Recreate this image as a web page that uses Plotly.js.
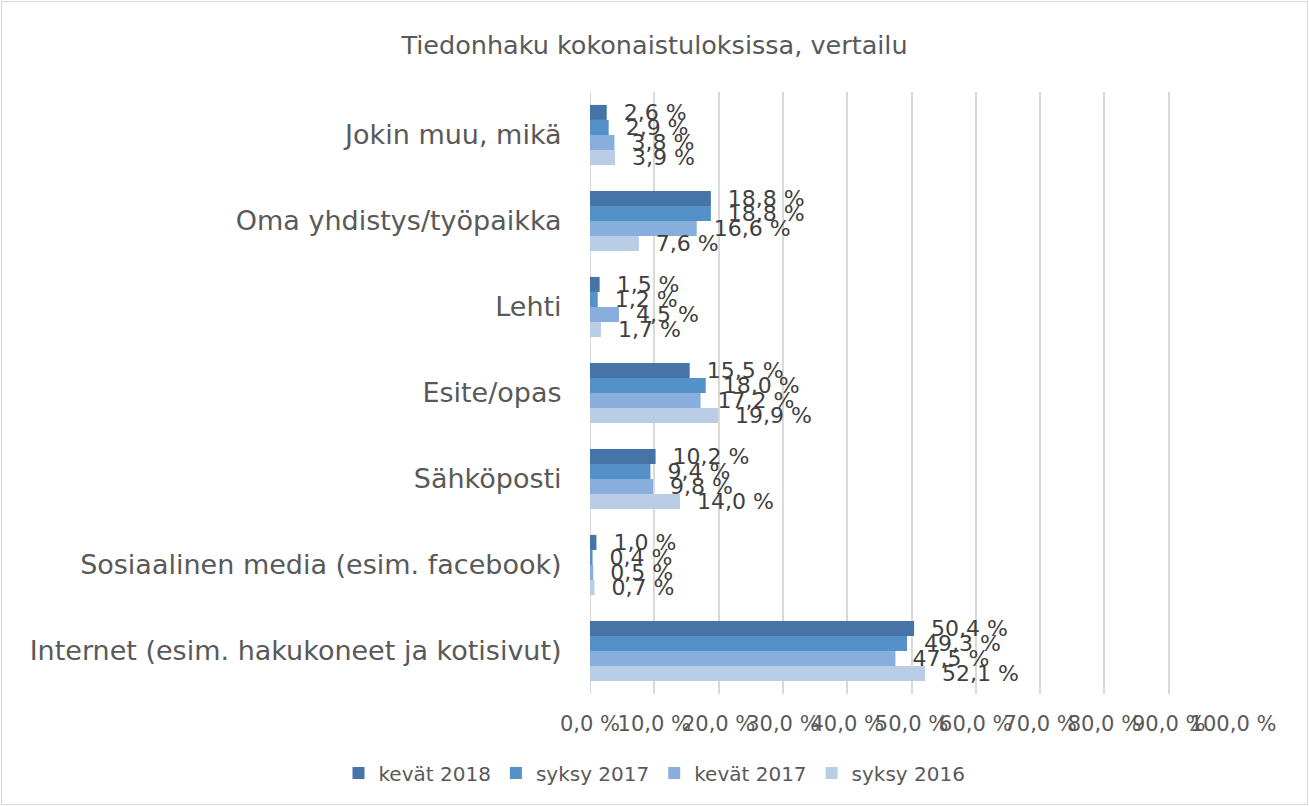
<!DOCTYPE html>
<html>
<head>
<meta charset="utf-8">
<script src="https://cdn.plot.ly/plotly-3.0.1.min.js"></script>
<style>
html,body{margin:0;padding:0;background:#fff;}
#wrap{position:relative;width:1309px;height:806px;}
#chart{width:1309px;height:806px;}
#frame{position:absolute;left:1px;top:1px;width:1305px;height:802px;border:1px solid #d9d9d9;pointer-events:none;}
</style>
</head>
<body>
<div id="wrap"><div id="chart"></div><div id="frame"></div></div>
<script>
const categories = [
  "Jokin muu, mikä",
  "Oma yhdistys/työpaikka",
  "Lehti",
  "Esite/opas",
  "Sähköposti",
  "Sosiaalinen media (esim. facebook)",
  "Internet (esim. hakukoneet ja kotisivut)"
];
const seriesNames = ["kevät 2018", "syksy 2017", "kevät 2017", "syksy 2016"];
const kevat2018 = [2.6, 18.8, 1.5, 15.5, 10.2, 1.0, 50.4];
const syksy2017 = [2.9, 18.8, 1.2, 18.0, 9.4, 0.4, 49.3];
const kevat2017 = [3.8, 16.6, 4.5, 17.2, 9.8, 0.5, 47.5];
const syksy2016 = [3.9, 7.6, 1.7, 19.9, 14.0, 0.7, 52.1];
const tickValues = [0, 10, 20, 30, 40, 50, 60, 70, 80, 90, 100];
const tickLabels = ["0,0 %", "10,0 %", "20,0 %", "30,0 %", "40,0 %", "50,0 %",
                    "60,0 %", "70,0 %", "80,0 %", "90,0 %", "100,0 %"];

const seriesValues = [kevat2018, syksy2017, kevat2017, syksy2016];
const colors = ["#4674A6", "#5591C9", "#87AEDC", "#B9CDE6"];
const FONT = "DejaVu Sans, Verdana, sans-serif";

const traces = seriesValues.map((vals, i) => ({
  type: "bar",
  orientation: "h",
  name: seriesNames[i],
  y: categories,
  x: vals,
  marker: {color: colors[i]},
  texttemplate: "\u00a0\u00a0%{x:.1f} %",
  textposition: "outside",
  constraintext: "none",
  cliponaxis: false,
  textfont: {family: FONT, size: 22, color: "#404040"},
  hoverinfo: "x+name"
}));

const layout = {
  width: 1309,
  height: 806,
  paper_bgcolor: "#ffffff",
  plot_bgcolor: "#ffffff",
  separators: ", ",
  font: {family: FONT, color: "#595959"},
  margin: {l: 590, r: 76, t: 92, b: 112},
  barmode: "group",
  bargap: 0.30,
  bargroupgap: 0,
  title: {
    text: "Tiedonhaku kokonaistuloksissa, vertailu",
    font: {family: FONT, size: 25.5, color: "#595959"},
    x: 0.5, xref: "container", xanchor: "center",
    y: 1 - 45/806, yref: "container", yanchor: "middle"
  },
  xaxis: {
    range: [0, 100],
    tickmode: "array",
    tickvals: tickValues,
    ticktext: tickLabels,
    tickangle: 0,
    showgrid: true,
    gridcolor: "#d9d9d9",
    gridwidth: 2,
    zeroline: false,
    showline: false,
    ticks: "outside",
    ticklen: 11,
    tickcolor: "rgba(0,0,0,0)",
    tickfont: {family: FONT, size: 21, color: "#595959"},
    fixedrange: true
  },
  yaxis: {
    autorange: "reversed",
    showgrid: false,
    zeroline: false,
    showline: false,
    ticks: "outside",
    ticklen: 22,
    tickcolor: "rgba(0,0,0,0)",
    tickfont: {family: FONT, size: 27, color: "#595959"},
    fixedrange: true
  },
  shapes: [{
    type: "line", xref: "x", yref: "paper",
    x0: 0, x1: 0, y0: 0, y1: 1,
    line: {color: "#d9d9d9", width: 2}, layer: "below"
  }],
  showlegend: true,
  legend: {
    orientation: "h",
    x: 0.5, xref: "container", xanchor: "center",
    y: 1 - 773/806, yref: "container", yanchor: "middle",
    font: {family: FONT, size: 20, color: "#595959"},
    traceorder: "normal",
    itemwidth: 30
  }
};

Plotly.newPlot("chart", traces, layout, {displayModeBar: false, staticPlot: true});
</script>
</body>
</html>
